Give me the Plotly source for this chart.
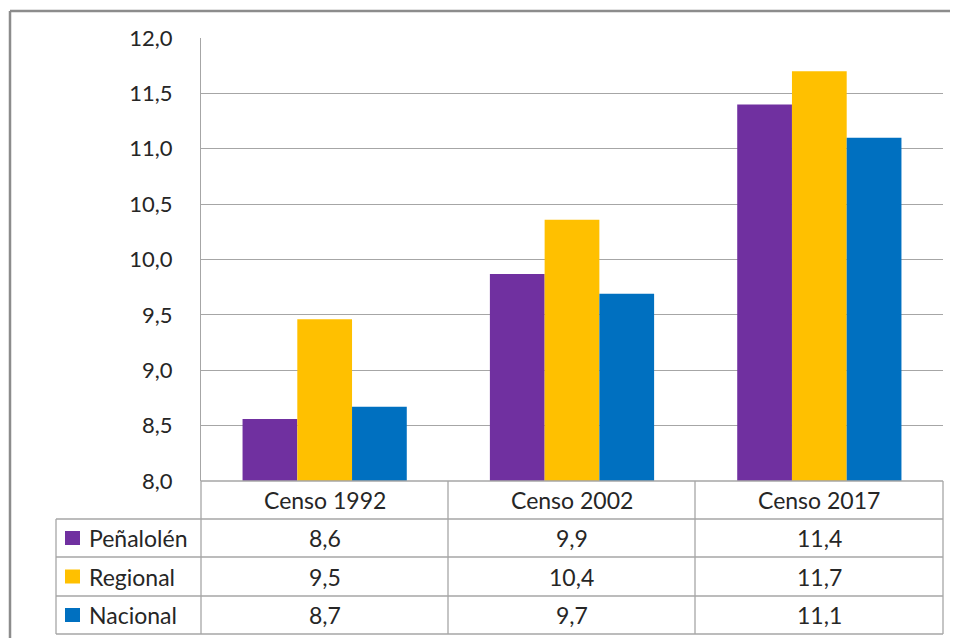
import plotly.graph_objects as go

categories = ["Censo 1992", "Censo 2002", "Censo 2017"]
series_names = ["Peñalolén", "Regional", "Nacional"]
penalolen = [8.56, 9.87, 11.40]
regional = [9.46, 10.36, 11.70]
nacional = [8.67, 9.69, 11.10]
colors = ["#7030A0", "#FFC000", "#0070C0"]
y_ticks = [8.0, 8.5, 9.0, 9.5, 10.0, 10.5, 11.0, 11.5, 12.0]

series_values = [penalolen, regional, nacional]

# figure sits at (8, 8) in the page because of the default body margin
OFF = 8
W, H = 958 - OFF, 638 - OFF
def px(x):
    return (x - OFF) / W
def py(y):
    return 1 - (y - OFF) / H

FONT = "Lato"
TXT = "#262626"
GRID = "#A6A6A6"
BORDER = "#8C8C8C"
FS = 23

fig = go.Figure()
for name, vals, col in zip(series_names, series_values, colors):
    fig.add_trace(go.Bar(x=categories, y=vals, name=name, marker_color=col,
                         marker_line_width=0, showlegend=False))

# plot area in screen pixels
L, R, T, B = 201, 943, 38, 481
row_y = [481, 519, 557, 596, 634]
col_x = [56, 201, 448, 695, 943]

fig.update_layout(
    width=W, height=H,
    margin=dict(l=0, r=0, t=0, b=0, autoexpand=False),
    paper_bgcolor="white", plot_bgcolor="white",
    barmode="group", bargap=0.336, bargroupgap=0,
    separators=",.",
    font=dict(family=FONT, size=FS, color=TXT),
    xaxis=dict(domain=[px(L), px(R)], range=[-0.5, 2.5], showticklabels=False,
               showgrid=False, zeroline=False, showline=False, automargin=False),
    yaxis=dict(domain=[py(B), py(T)], range=[8, 12], tickvals=y_ticks,
               tickformat=".1f", showgrid=True, gridcolor=GRID, gridwidth=1.3,
               zeroline=False, showline=True, linecolor=GRID, linewidth=1.3,
               ticks="", ticklabelstandoff=23, automargin=False,
               tickfont=dict(family=FONT, size=22, color=TXT)),
)

shapes = []
def line(x0, y0, x1, y1, color=GRID, width=1.3):
    shapes.append(dict(type="line", xref="paper", yref="paper",
                       x0=px(x0), y0=py(y0), x1=px(x1), y1=py(y1),
                       line=dict(color=color, width=width)))

# outer chart border (left and top)
line(10, 11, 10, 638, BORDER, 2.5)
line(10, 11, 958, 11, BORDER, 2.5)

# data table lines
line(L, row_y[0], R, row_y[0])
for y in row_y[1:]:
    line(col_x[0], y, R, y)
line(col_x[0], row_y[1], col_x[0], row_y[-1])
line(col_x[1], row_y[0], col_x[1], row_y[-1])
for x in col_x[2:]:
    line(x, row_y[0], x, row_y[-1])

annotations = []
for i, cat in enumerate(categories):
    cx = (col_x[i + 1] + col_x[i + 2]) / 2
    cy = (row_y[0] + row_y[1]) / 2
    annotations.append(dict(x=px(cx), y=py(cy), xref="paper", yref="paper",
                            text=cat, showarrow=False, xanchor="center",
                            yanchor="middle", font=dict(size=FS, color=TXT)))

for r, (name, vals, col) in enumerate(zip(series_names, series_values, colors)):
    cy = (row_y[r + 1] + row_y[r + 2]) / 2
    shapes.append(dict(type="rect", xref="paper", yref="paper",
                       x0=px(65), x1=px(80), y0=py(cy - 7), y1=py(cy + 7),
                       fillcolor=col, line=dict(width=0)))
    annotations.append(dict(x=px(87), y=py(cy), xref="paper", yref="paper",
                            text=name, showarrow=False, xanchor="left",
                            yanchor="middle", font=dict(size=FS, color=TXT)))
    for i, v in enumerate(vals):
        cx = (col_x[i + 1] + col_x[i + 2]) / 2
        annotations.append(dict(x=px(cx), y=py(cy), xref="paper", yref="paper",
                                text=f"{v:.1f}".replace(".", ","), showarrow=False,
                                xanchor="center", yanchor="middle",
                                font=dict(size=FS, color=TXT)))

fig.update_layout(shapes=shapes, annotations=annotations)
fig.write_html("out.html", config={"displayModeBar": False})
